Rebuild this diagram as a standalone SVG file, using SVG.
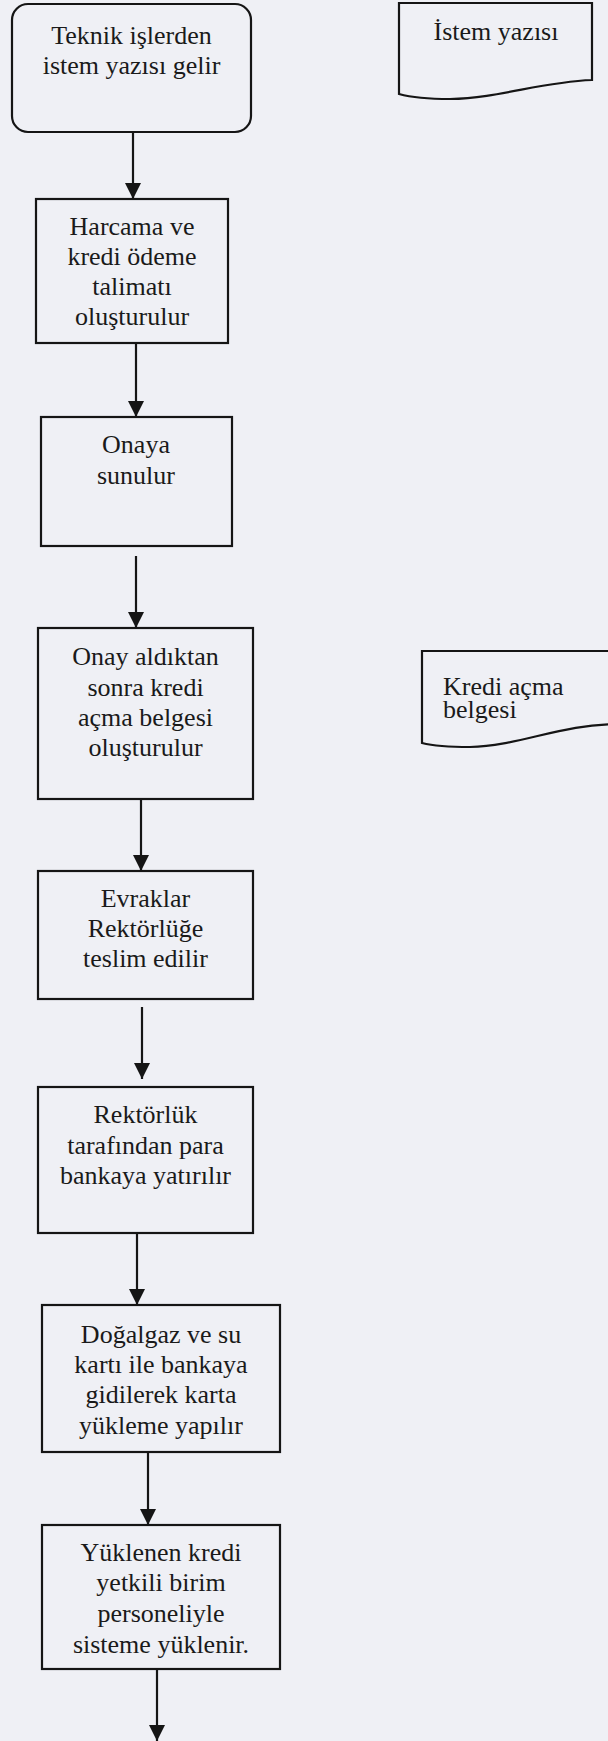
<svg xmlns="http://www.w3.org/2000/svg" width="608" height="1741" viewBox="0 0 608 1741">
<style>
.box{fill:none;stroke:#151515;stroke-width:2.2}
.t{font-family:"Liberation Serif","Times New Roman",serif;font-size:26px;fill:#1a1a1a;text-anchor:middle}
.tl{font-family:"Liberation Serif","Times New Roman",serif;font-size:26px;fill:#1a1a1a}
.conn line{stroke:#151515;stroke-width:2.2;marker-end:url(#ah)}
</style>
<defs>
<marker id="ah" markerUnits="userSpaceOnUse" markerWidth="16" markerHeight="16" refX="16" refY="8" orient="auto">
<path d="M0,0 L16,8 L0,16 Z" fill="#151515"/>
</marker>
</defs>
<rect x="0" y="0" width="608" height="1741" fill="#eff0f5"/>
<g id="n1">
<rect class="box" x="12" y="4" width="239" height="128" rx="16" ry="16"/>
<text class="t" x="131.5" y="44">Teknik işlerden</text>
<text class="t" x="131.5" y="74">istem yazısı gelir</text>
</g>
<g id="doc1">
<path class="box" d="M399,3 H592 V80 C540,82 500,98 450,99 C425,99 410,97 399,94 Z"/>
<text class="t" x="496" y="40">İstem yazısı</text>
</g>
<g id="n2">
<rect class="box" x="36" y="199" width="192" height="144"/>
<text class="t" x="132" y="235">Harcama ve</text>
<text class="t" x="132" y="265">kredi ödeme</text>
<text class="t" x="132" y="295">talimatı</text>
<text class="t" x="132" y="325">oluşturulur</text>
</g>
<g id="n3">
<rect class="box" x="41" y="417" width="191" height="129"/>
<text class="t" x="136" y="453">Onaya</text>
<text class="t" x="136" y="484">sunulur</text>
</g>
<g id="n4">
<rect class="box" x="38" y="628" width="215" height="171"/>
<text class="t" x="145.5" y="665">Onay aldıktan</text>
<text class="t" x="145.5" y="696">sonra kredi</text>
<text class="t" x="145.5" y="726">açma belgesi</text>
<text class="t" x="145.5" y="756">oluşturulur</text>
</g>
<g id="doc2">
<path class="box" d="M422,651 H620 V724 C560,724 520,746 470,747 C445,747 430,745 422,743 Z"/>
<text class="tl" x="443" y="695">Kredi açma</text>
<text class="tl" x="443" y="718">belgesi</text>
</g>
<g id="n5">
<rect class="box" x="38" y="871" width="215" height="128"/>
<text class="t" x="145.5" y="907">Evraklar</text>
<text class="t" x="145.5" y="937">Rektörlüğe</text>
<text class="t" x="145.5" y="967">teslim edilir</text>
</g>
<g id="n6">
<rect class="box" x="38" y="1087" width="215" height="146"/>
<text class="t" x="145.5" y="1123">Rektörlük</text>
<text class="t" x="145.5" y="1154">tarafından para</text>
<text class="t" x="145.5" y="1184">bankaya yatırılır</text>
</g>
<g id="n7">
<rect class="box" x="42" y="1305" width="238" height="147"/>
<text class="t" x="161" y="1343">Doğalgaz ve su</text>
<text class="t" x="161" y="1373">kartı ile bankaya</text>
<text class="t" x="161" y="1403">gidilerek karta</text>
<text class="t" x="161" y="1434">yükleme yapılır</text>
</g>
<g id="n8">
<rect class="box" x="42" y="1525" width="238" height="144"/>
<text class="t" x="161" y="1561">Yüklenen kredi</text>
<text class="t" x="161" y="1591">yetkili birim</text>
<text class="t" x="161" y="1622">personeliyle</text>
<text class="t" x="161" y="1653">sisteme yüklenir.</text>
</g>
<g id="connectors" class="conn">
<line x1="133" y1="132" x2="133" y2="199"/>
<line x1="136" y1="343" x2="136" y2="417"/>
<line x1="136" y1="556" x2="136" y2="628"/>
<line x1="141" y1="799" x2="141" y2="871"/>
<line x1="142" y1="1007" x2="142" y2="1079"/>
<line x1="137" y1="1233" x2="137" y2="1305"/>
<line x1="148" y1="1452" x2="148" y2="1525"/>
<line x1="157" y1="1669" x2="157" y2="1741"/>
</g>
</svg>
